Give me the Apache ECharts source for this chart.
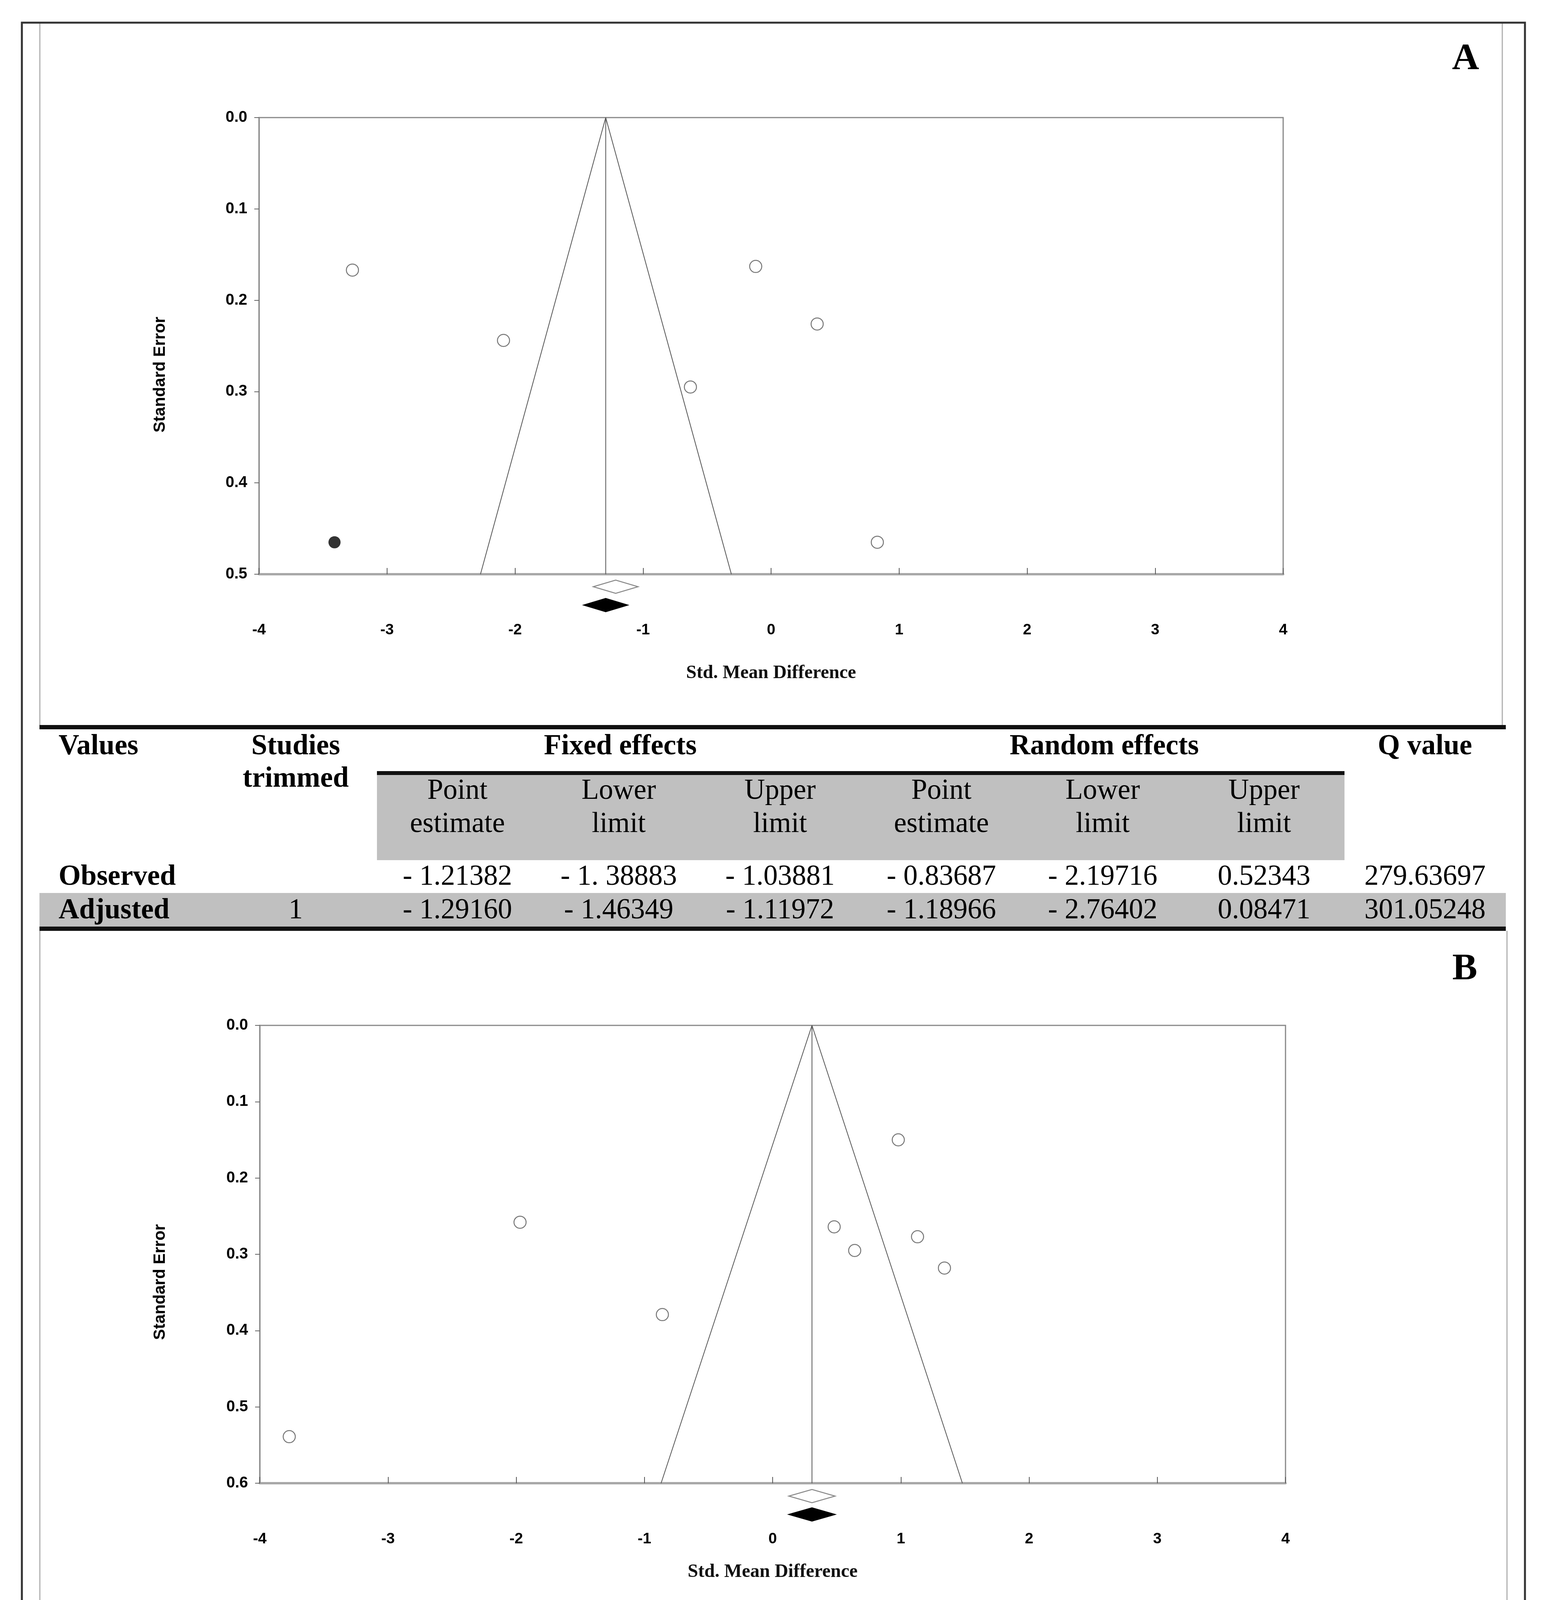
<!DOCTYPE html>
<html><head><meta charset="utf-8">
<script src="https://cdn.jsdelivr.net/npm/echarts@6/dist/echarts.min.js"></script>
<style>html,body{margin:0;padding:0;background:#fff}#c{width:3963px;height:4752px}</style>
</head><body><div id="c"></div>
<script>
// ---------- Panel A data ----------
const studySmdA = [-3.27, -2.09, -0.12, 0.36, -0.63, 0.83];
const studySeA  = [0.167, 0.244, 0.163, 0.226, 0.295, 0.465];
const imputedSmdA = [-3.41];
const imputedSeA  = [0.465];
const funnelSmdA = [-2.27, -1.2916, -0.31];
const funnelSeA  = [0.5, 0, 0.5];
const centerLineA = [[-1.2916, 0], [-1.2916, 0.5]];
const diamondObservedA = [-1.38883, -1.21382, -1.03881];
const diamondAdjustedA = [-1.46349, -1.29160, -1.11972];
const seMaxA = 0.5;

// ---------- Panel B data ----------
const studySmdB = [-3.77, -1.97, -0.86, 0.98, 0.48, 0.64, 1.13, 1.34];
const studySeB  = [0.539, 0.258, 0.379, 0.150, 0.264, 0.295, 0.277, 0.318];
const funnelSmdB = [-0.87, 0.30678, 1.48];
const funnelSeB  = [0.6, 0, 0.6];
const centerLineB = [[0.30678, 0], [0.30678, 0.6]];
const diamondObservedB = [0.12643, 0.30678, 0.48714];
const diamondAdjustedB = [0.12643, 0.30678, 0.48714];
const seMaxB = 0.6;

// ---------- Table texts ----------
const headTop = ['Values', 'Studies', 'Fixed effects', 'Random effects', 'Q value'];
const headTrimmed = 'trimmed';
const subHead1 = ['Point', 'Lower', 'Upper', 'Point', 'Lower', 'Upper'];
const subHead2 = ['estimate', 'limit', 'limit', 'estimate', 'limit', 'limit'];
const rowLabels = ['Observed', 'Adjusted'];
const observedA = ['- 1.21382', '- 1. 38883', '- 1.03881', '- 0.83687', '- 2.19716', '0.52343', '279.63697'];
const adjustedA = ['- 1.29160', '- 1.46349', '- 1.11972', '- 1.18966', '- 2.76402', '0.08471', '301.05248'];
const trimmedA = '1';
const observedB = ['0.30678', '0.12643', '0.48714', '- 0.21154', '- 1.18895', '0.76588', '184.31183'];
const adjustedB = ['0.30678', '0.12643', '0.48714', '- 0.21154', '- 1.18895', '0.76588', '184.31183'];
const trimmedB = '0';

const SERIF = '"Liberation Serif", "Times New Roman", serif';
const SANS = '"Liberation Sans", Arial, sans-serif';

const chart = echarts.init(document.getElementById('c'), null, {renderer: 'canvas'});

function pairs(xs, ys) { return xs.map((x, i) => [x, ys[i]]); }

function diamondSeries(idx, vals, seMax, offset, filled) {
  return {
    type: 'custom', xAxisIndex: idx, yAxisIndex: idx, clip: false, silent: true, z: 5,
    data: [[vals[0], vals[1], vals[2], seMax]],
    encode: {x: [0, 1, 2], y: 3},
    renderItem: function (params, api) {
      const lo = api.coord([api.value(0), api.value(3)]);
      const c = api.coord([api.value(1), api.value(3)]);
      const hi = api.coord([api.value(2), api.value(3)]);
      const cy = c[1] + offset;
      return {
        type: 'polygon',
        shape: {points: [[lo[0], cy], [c[0], cy - 17], [hi[0], cy], [c[0], cy + 17]]},
        style: {fill: filled ? '#000' : '#fff', stroke: filled ? '#000' : '#888', lineWidth: 2.5}
      };
    }
  };
}

function xAxisCfg(idx, gap) {
  return {
    type: 'value', gridIndex: idx, min: -4, max: 4, interval: 1,
    name: 'Std. Mean Difference', nameLocation: 'middle', nameGap: gap,
    nameTextStyle: {fontFamily: SERIF, fontWeight: 'bold', fontSize: 48, color: '#111', verticalAlign: 'middle'},
    axisLine: {show: true, onZero: false, lineStyle: {color: '#a8a8a8', width: 6}},
    axisTick: {show: true, inside: true, length: 16, lineStyle: {color: '#555', width: 2}},
    axisLabel: {margin: 124, fontFamily: SANS, fontWeight: 'bold', fontSize: 39, color: '#000'},
    splitLine: {show: false}
  };
}
function yAxisCfg(idx, max) {
  return {
    type: 'value', gridIndex: idx, min: 0, max: max, interval: 0.1, inverse: true,
    axisLine: {show: true, onZero: false, lineStyle: {color: '#888', width: 3}},
    axisTick: {show: true, inside: false, length: 12, lineStyle: {color: '#666', width: 2}},
    axisLabel: {margin: 30, fontFamily: SANS, fontWeight: 'bold', fontSize: 40, color: '#000',
      formatter: v => v.toFixed(1)},
    splitLine: {show: false}
  };
}

const lineStyleF = {color: '#555', width: 2};
const openCircle = {color: '#fff', borderColor: '#555', borderWidth: 2.5};

const series = [
  {type: 'line', xAxisIndex: 0, yAxisIndex: 0, data: pairs(funnelSmdA, funnelSeA), symbol: 'none', lineStyle: lineStyleF, silent: true, z: 2},
  {type: 'line', xAxisIndex: 0, yAxisIndex: 0, data: centerLineA, symbol: 'none', lineStyle: lineStyleF, silent: true, z: 2},
  {type: 'scatter', xAxisIndex: 0, yAxisIndex: 0, data: pairs(studySmdA, studySeA), symbol: 'circle', symbolSize: 31, itemStyle: openCircle, z: 3},
  {type: 'scatter', xAxisIndex: 0, yAxisIndex: 0, data: pairs(imputedSmdA, imputedSeA), symbol: 'circle', symbolSize: 31, itemStyle: {color: '#000'}, z: 3},
  diamondSeries(0, diamondObservedA, seMaxA, 32, false),
  diamondSeries(0, diamondAdjustedA, seMaxA, 79, true),

  {type: 'line', xAxisIndex: 1, yAxisIndex: 1, data: pairs(funnelSmdB, funnelSeB), symbol: 'none', lineStyle: lineStyleF, silent: true, z: 2},
  {type: 'line', xAxisIndex: 1, yAxisIndex: 1, data: centerLineB, symbol: 'none', lineStyle: lineStyleF, silent: true, z: 2},
  {type: 'scatter', xAxisIndex: 1, yAxisIndex: 1, data: pairs(studySmdB, studySeB), symbol: 'circle', symbolSize: 31, itemStyle: openCircle, z: 3},
  diamondSeries(1, diamondObservedB, seMaxB, 33, false),
  diamondSeries(1, diamondAdjustedB, seMaxB, 80, true)
];

// ---------- Graphic: frames, labels, tables ----------
const G = [];
function txt(x, y, text, size, bold, align, family, extra) {
  G.push(Object.assign({type: 'text', x: x, y: y, silent: true,
    style: {text: text, fontSize: size, fontWeight: bold ? 'bold' : 'normal', fontFamily: family || SERIF,
      fill: '#000', align: align || 'center', verticalAlign: 'middle'}}, extra || {}));
}
function rect(x, y, w, h, fill) {
  G.push({type: 'rect', silent: true, shape: {x: x, y: y, width: w, height: h}, style: {fill: fill}});
}
function vline(x, y1, y2, color, w) {
  G.push({type: 'line', silent: true, shape: {x1: x, y1: y1, x2: x, y2: y2}, style: {stroke: color, lineWidth: w}});
}

// outer frame
G.push({type: 'rect', silent: true, shape: {x: 56, y: 58, width: 3848, height: 4654}, style: {fill: 'none', stroke: '#333', lineWidth: 5}, z: 10});
// inner panel frames
vline(102, 60, 1857, '#b0b0b0', 3); vline(3846, 60, 1857, '#b0b0b0', 3);
vline(102, 2383, 4190, '#b0b0b0', 3); vline(3858, 2383, 4190, '#b0b0b0', 3);

// panel letters
txt(3752, 152, 'A', 96, true, 'center');
txt(3750, 2482, 'B', 96, true, 'center');

// y axis titles
txt(410, 959, 'Standard Error', 42, true, 'center', SANS, {rotation: Math.PI / 2});
txt(410, 3282, 'Standard Error', 42, true, 'center', SANS, {rotation: Math.PI / 2});

const colSub = [1171, 1584, 1997, 2410, 2823, 3236];
const colQ = 3648, colTrim = 757, colVal = 150;
function table(T, observed, adjusted, trimmed, adjSize) {
  const L = 101, R = 3855;
  rect(965, T + 121, 2477, 219, '#c0c0c0');
  rect(L, T + 424, R - L, 86, '#c0c0c0');
  rect(L, T - 6, R - L, 11, '#111');
  rect(965, T + 112, 2477, 10, '#111');
  rect(L, T + 510, R - L, 11, '#111');
  const F = 73;
  txt(colVal, T + 50, headTop[0], F, true, 'left');
  txt(colTrim, T + 50, headTop[1], F, true);
  txt(colTrim, T + 133, headTrimmed, F, true);
  txt(1588, T + 50, headTop[2], F, true);
  txt(2827, T + 50, headTop[3], F, true);
  txt(colQ, T + 50, headTop[4], F, true);
  for (let i = 0; i < 6; i++) {
    txt(colSub[i], T + 164, subHead1[i], F, false);
    txt(colSub[i], T + 249, subHead2[i], F, false);
  }
  txt(colVal, T + 384, rowLabels[0], F, true, 'left');
  txt(colVal, T + 470, rowLabels[1], F, true, 'left');
  txt(colTrim, T + 470, trimmed, F, false);
  for (let i = 0; i < 6; i++) {
    txt(colSub[i], T + 384, observed[i], F, false);
    txt(colSub[i], T + 470, adjusted[i], adjSize, false);
  }
  txt(colQ, T + 384, observed[6], F, false);
  txt(colQ, T + 470, adjusted[6], adjSize, false);
}
table(1862, observedA, adjustedA, trimmedA, 73);
table(4194, observedB, adjustedB, trimmedB, 66);

chart.setOption({
  animation: false,
  backgroundColor: '#fff',
  grid: [
    {left: 663, top: 301, width: 2622, height: 1169, show: true, borderColor: '#888', borderWidth: 3, containLabel: false},
    {left: 665, top: 2625, width: 2626, height: 1172, show: true, borderColor: '#888', borderWidth: 3, containLabel: false}
  ],
  xAxis: [xAxisCfg(0, 254), xAxisCfg(1, 228)],
  yAxis: [yAxisCfg(0, seMaxA), yAxisCfg(1, seMaxB)],
  series: series,
  graphic: {elements: G}
});
</script>
</body></html>
